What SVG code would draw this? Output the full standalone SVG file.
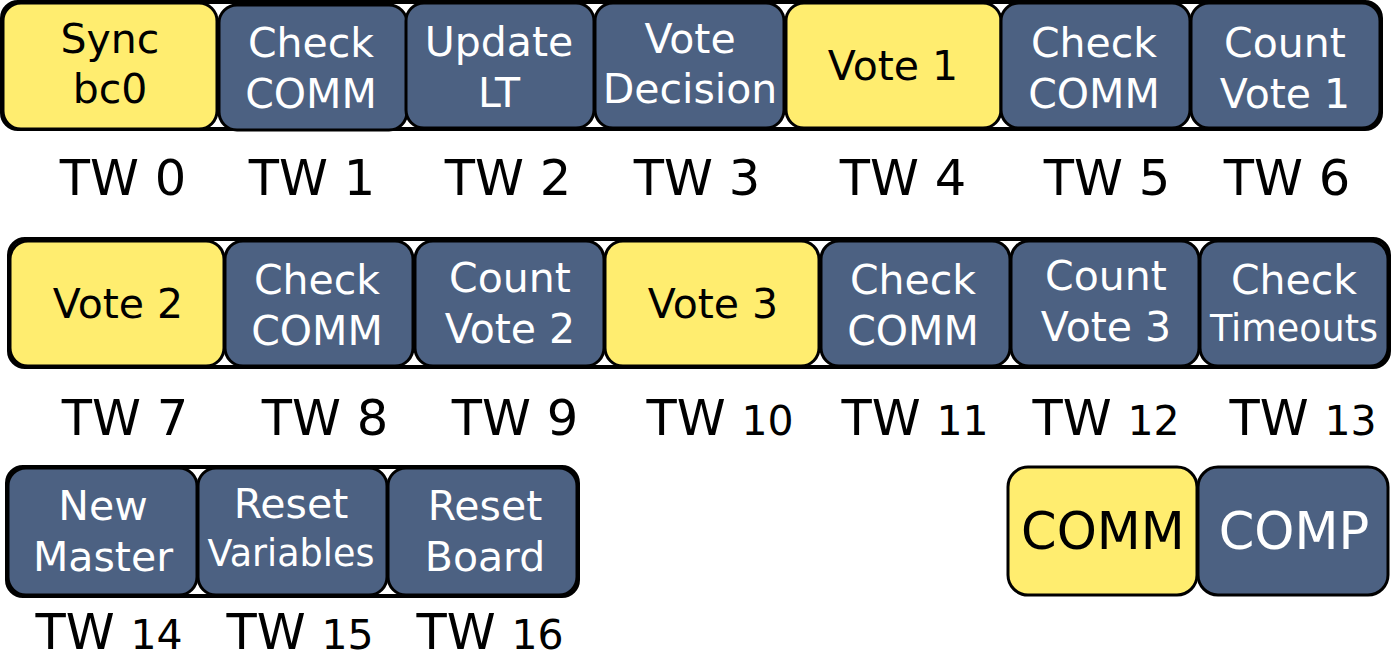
<svg xmlns="http://www.w3.org/2000/svg" width="1391" height="653" viewBox="0 0 1391 653">
<style>
.outer{fill:#fff;stroke:#000;stroke-width:4}
.y{fill:#ffed6f;stroke:#000;stroke-width:3}
.b{fill:#4c6182;stroke:#000;stroke-width:3}
text{font-family:"DejaVu Sans","Liberation Sans",sans-serif;text-anchor:middle}
.wt{fill:#fff;font-size:41px}
.bt{fill:#000;font-size:41px}
.sm{font-size:36.5px}
.tw{fill:#000;font-size:49.5px}
.n{font-size:41px}
.lg{font-size:51px}
</style>
<g id="rows">
<rect class="outer" x="2" y="2" width="1379" height="127" rx="16"/>
<rect class="outer" x="9" y="239" width="1380" height="128" rx="16"/>
<rect class="outer" x="7" y="467" width="571" height="129" rx="16"/>
</g>
<g id="tw0"><rect class="y" x="3" y="3" width="214" height="126" rx="18"/><text class="bt" x="110" y="53">Sync</text><text class="bt" x="110" y="103">bc0</text></g>
<g id="tw1"><rect class="b" x="219" y="5" width="188" height="125" rx="18"/><text class="wt" x="311" y="57">Check</text><text class="wt" x="311" y="108">COMM</text></g>
<g id="tw2"><rect class="b" x="406" y="3" width="188" height="125" rx="18"/><text class="wt" x="499" y="56">Update</text><text class="wt" x="499" y="107">LT</text></g>
<g id="tw3"><rect class="b" x="595" y="3" width="189" height="125" rx="18"/><text class="wt" x="690" y="53">Vote</text><text class="wt" x="690" y="103">Decision</text></g>
<g id="tw4"><rect class="y" x="786" y="3" width="215" height="125" rx="18"/><text class="bt" x="893" y="80">Vote 1</text></g>
<g id="tw5"><rect class="b" x="1001" y="3" width="189" height="125" rx="18"/><text class="wt" x="1094" y="57">Check</text><text class="wt" x="1094" y="108">COMM</text></g>
<g id="tw6"><rect class="b" x="1191" y="3" width="189" height="125" rx="18"/><text class="wt" x="1285" y="57">Count</text><text class="wt" x="1285" y="108">Vote 1</text></g>

<g id="tw7"><rect class="y" x="10" y="241" width="214" height="125" rx="18"/><text class="bt" x="118" y="318">Vote 2</text></g>
<g id="tw8"><rect class="b" x="225" y="241" width="188" height="125" rx="18"/><text class="wt" x="317" y="294">Check</text><text class="wt" x="317" y="345">COMM</text></g>
<g id="tw9"><rect class="b" x="415" y="241" width="189" height="125" rx="18"/><text class="wt" x="510" y="292">Count</text><text class="wt" x="510" y="343">Vote 2</text></g>
<g id="tw10"><rect class="y" x="605" y="241" width="214" height="125" rx="18"/><text class="bt" x="713" y="318">Vote 3</text></g>
<g id="tw11"><rect class="b" x="821" y="241" width="189" height="125" rx="18"/><text class="wt" x="913" y="294">Check</text><text class="wt" x="913" y="345">COMM</text></g>
<g id="tw12"><rect class="b" x="1011" y="241" width="188" height="125" rx="18"/><text class="wt" x="1106" y="290">Count</text><text class="wt" x="1106" y="341">Vote 3</text></g>
<g id="tw13"><rect class="b" x="1200" y="241" width="188" height="125" rx="18"/><text class="wt" x="1294" y="294">Check</text><text class="wt sm" x="1294" y="341">Timeouts</text></g>

<g id="tw14"><rect class="b" x="8" y="468" width="189" height="127" rx="18"/><text class="wt" x="103" y="520">New</text><text class="wt" x="103" y="571">Master</text></g>
<g id="tw15"><rect class="b" x="198" y="468" width="189" height="127" rx="18"/><text class="wt" x="291" y="518">Reset</text><text class="wt sm" x="291" y="566">Variables</text></g>
<g id="tw16"><rect class="b" x="388" y="468" width="189" height="127" rx="18"/><text class="wt" x="485" y="520">Reset</text><text class="wt" x="485" y="571">Board</text></g>

<g id="legend-comm"><rect class="y" x="1008" y="467" width="189" height="128" rx="20"/><text class="bt lg" x="1103" y="549">COMM</text></g>
<g id="legend-comp"><rect class="b" x="1198" y="467" width="190" height="128" rx="20"/><text class="wt lg" x="1294" y="549">COMP</text></g>

<g id="labels">
<text class="tw" x="123" y="195">TW 0</text>
<text class="tw" x="312" y="195">TW 1</text>
<text class="tw" x="508" y="195">TW 2</text>
<text class="tw" x="697" y="195">TW 3</text>
<text class="tw" x="903" y="195">TW 4</text>
<text class="tw" x="1107" y="195">TW 5</text>
<text class="tw" x="1287" y="195">TW 6</text>
<text class="tw" x="125" y="435">TW 7</text>
<text class="tw" x="325" y="435">TW 8</text>
<text class="tw" x="515" y="435">TW 9</text>
<text class="tw" x="720" y="435">TW <tspan class="n">10</tspan></text>
<text class="tw" x="915" y="435">TW <tspan class="n">11</tspan></text>
<text class="tw" x="1106" y="435">TW <tspan class="n">12</tspan></text>
<text class="tw" x="1303" y="435">TW <tspan class="n">13</tspan></text>
<text class="tw" x="109" y="649">TW <tspan class="n">14</tspan></text>
<text class="tw" x="300" y="649">TW <tspan class="n">15</tspan></text>
<text class="tw" x="490" y="649">TW <tspan class="n">16</tspan></text>
</g>
</svg>
